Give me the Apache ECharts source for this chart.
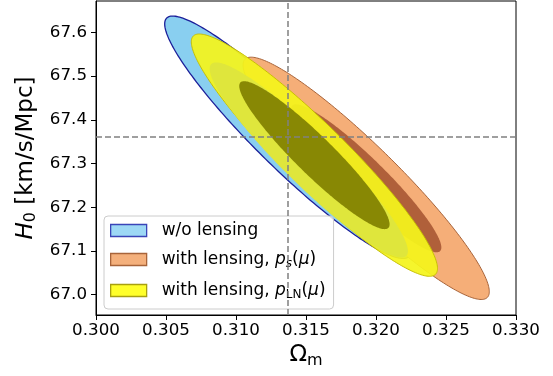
<!DOCTYPE html>
<html>
<head>
<meta charset="utf-8">
<script src="https://cdn.jsdelivr.net/npm/echarts@6/dist/echarts.min.js"></script>
<style>
  html, body { margin: 0; padding: 0; background: #ffffff; }
  #chart { width: 553px; height: 376px; }
</style>
</head>
<body>
<div id="chart"></div>
<script>
// Fiducial cosmology (dashed guide lines)
const fiducialOm = 0.3137;
const fiducialH0 = 67.36;

// Axis ticks
const omTicks = [0.300, 0.305, 0.310, 0.315, 0.320, 0.325, 0.330];
const h0Ticks = [67.0, 67.1, 67.2, 67.3, 67.4, 67.5, 67.6];

// Cases shown in the legend
const caseNames = ['w/o lensing', 'with lensing, p_s(μ)', 'with lensing, p_LN(μ)'];

// Confidence contours: case index, best-fit centre, 1-sigma errors,
// correlation coefficient and Δχ² level of each contour
const contourCase  = [0, 1, 1, 2, 2, 2];
const contourOm    = [0.3137, 0.3193, 0.3193, 0.3156, 0.3152, 0.3156];
const contourH0    = [67.360, 67.266, 67.266, 67.319, 67.308, 67.319];
const contourSigOm = [0.00354, 0.00354, 0.00354, 0.00354, 0.00354, 0.00354];
const contourSigH0 = [0.1116, 0.1116, 0.1116, 0.1116, 0.1116, 0.1116];
const contourRho   = [-0.935, -0.935, -0.935, -0.935, -0.935, -0.935];
const contourDchi2 = [6.17, 6.17, 2.30, 6.17, 4.00, 2.30];

// Look of each contour
const contourStyle = [
  { fill: '#89cff0', stroke: '#1c1f9a', lw: 1.3 },
  { fill: '#f5ae78', stroke: '#a8643a', lw: 1.0 },
  { fill: '#b0603a', stroke: null, lw: 0 },
  { fill: '#f4f41c', stroke: '#c4bc00', lw: 1.0, opacity: 0.93 },
  { fill: '#dfe63c', stroke: null, lw: 0 },
  { fill: '#808000', stroke: null, lw: 0, opacity: 0.92 }
];

const legendStyle = [
  { color: '#9dd8f5', borderColor: '#3a44b8', borderWidth: 1.3 },
  { color: '#f4b07c', borderColor: '#a8643a', borderWidth: 1.3 },
  { color: '#ffff2a', borderColor: '#a8a010', borderWidth: 1.3 }
];

const legendLabels = [
  '{t|w/o lensing}',
  '{t|with lensing, }{i|p}{si|s}{t|(}{i|μ}{t|)}',
  '{t|with lensing, }{i|p}{sr|LN}{t|(}{i|μ}{t|)}'
];

const FONT = 'DejaVu Sans';
const TICK_FS = 16.7;
const LEG_FS = 17;
const NAME_FS = 23;

function renderContour(params, api) {
  const om = api.value(0), h0 = api.value(1);
  const sx = api.value(2), sy = api.value(3), rho = api.value(4);
  const k = Math.sqrt(api.value(5));
  const id = api.value(6);
  const q = Math.sqrt(1 - rho * rho);
  const pts = [];
  const n = 240;
  for (let j = 0; j < n; j++) {
    const t = 2 * Math.PI * j / n;
    const c = Math.cos(t), s = Math.sin(t);
    pts.push(api.coord([om + k * sx * c, h0 + k * sy * (rho * c + q * s)]));
  }
  const st = contourStyle[id];
  return {
    type: 'polygon',
    shape: { points: pts },
    style: {
      fill: st.fill,
      stroke: st.stroke || null,
      lineWidth: st.lw || 0,
      opacity: st.opacity == null ? 1 : st.opacity
    }
  };
}

const series = caseNames.map((name, c) => {
  const data = [];
  for (let i = 0; i < contourCase.length; i++) {
    if (contourCase[i] !== c) continue;
    data.push([contourOm[i], contourH0[i], contourSigOm[i], contourSigH0[i],
               contourRho[i], contourDchi2[i], i]);
  }
  const s = {
    type: 'custom',
    name: name,
    renderItem: renderContour,
    data: data,
    encode: { x: 0, y: 1 },
    itemStyle: { color: legendStyle[c].color },
    silent: true,
    animation: false
  };
  if (c === caseNames.length - 1) {
    s.markLine = {
      silent: true,
      precision: 6,
      symbol: ['none', 'none'],
      label: { show: false },
      animation: false,
      lineStyle: { color: '#808080', type: [6, 3], width: 1.5 },
      data: [{ xAxis: fiducialOm }, { yAxis: fiducialH0 }]
    };
  }
  return s;
});

const subPad = [9, 0, 0, 0];
const legendRich = {
  t:  { fontFamily: FONT, fontSize: LEG_FS, color: '#000', lineHeight: 18 },
  i:  { fontFamily: FONT, fontSize: LEG_FS, color: '#000', fontStyle: 'italic', lineHeight: 18 },
  si: { fontFamily: FONT, fontSize: 12, color: '#000', fontStyle: 'italic', padding: subPad, lineHeight: 12 },
  sr: { fontFamily: FONT, fontSize: 12, color: '#000', padding: subPad, lineHeight: 12 }
};

const chart = echarts.init(document.getElementById('chart'), null, { renderer: 'canvas' });
chart.setOption({
  animation: false,
  backgroundColor: '#ffffff',
  grid: {
    left: 96, right: 37, top: 1, bottom: 61,
    show: true, borderColor: '#000000', borderWidth: 1, backgroundColor: 'transparent'
  },
  xAxis: {
    type: 'value',
    min: 0.300, max: 0.330,
    name: '{o|Ω}{s|m}',
    nameLocation: 'middle',
    nameGap: 24,
    nameTextStyle: {
      fontFamily: FONT, fontSize: NAME_FS, color: '#000',
      rich: {
        o: { fontFamily: FONT, fontSize: NAME_FS, color: '#000' },
        s: { fontFamily: FONT, fontSize: 16, color: '#000', padding: [10, 0, 0, 0] }
      }
    },
    axisLine: { show: true, onZero: false, lineStyle: { color: '#000', width: 1 } },
    axisTick: { show: true, length: 5, inside: false, customValues: omTicks,
                lineStyle: { color: '#000', width: 1 } },
    axisLabel: { customValues: omTicks, formatter: v => v.toFixed(3), margin: 7,
                 fontFamily: FONT, fontSize: TICK_FS, color: '#000' },
    splitLine: { show: false }
  },
  yAxis: {
    type: 'value',
    min: 66.9533, max: 67.6717,
    name: '{i|H}{s|0}{t| [km/s/Mpc]}',
    nameLocation: 'middle',
    nameRotate: 90,
    nameGap: 55,
    nameTextStyle: {
      fontFamily: FONT, fontSize: NAME_FS, color: '#000',
      rich: {
        i: { fontFamily: FONT, fontSize: NAME_FS, color: '#000', fontStyle: 'italic' },
        s: { fontFamily: FONT, fontSize: 16, color: '#000', padding: [10, 0, 0, 0] },
        t: { fontFamily: FONT, fontSize: NAME_FS, color: '#000' }
      }
    },
    axisLine: { show: true, onZero: false, lineStyle: { color: '#000', width: 1 } },
    axisTick: { show: true, length: 5, inside: false, customValues: h0Ticks,
                lineStyle: { color: '#000', width: 1 } },
    axisLabel: { customValues: h0Ticks, formatter: v => v.toFixed(1), margin: 9,
                 fontFamily: FONT, fontSize: TICK_FS, color: '#000' },
    splitLine: { show: false }
  },
  legend: {
    orient: 'vertical',
    left: 104, top: 216,
    padding: [6, 8, 8, 6],
    itemGap: 10,
    itemWidth: 36, itemHeight: 12,
    icon: 'rect',
    backgroundColor: 'rgba(255,255,255,0.8)',
    borderColor: '#cccccc', borderWidth: 1, borderRadius: 4,
    selectedMode: false,
    data: caseNames.map((n, i) => ({ name: n, icon: 'rect', itemStyle: legendStyle[i] })),
    formatter: n => legendLabels[caseNames.indexOf(n)],
    textStyle: { fontFamily: FONT, fontSize: LEG_FS, color: '#000', padding: [0, 0, 0, 10], rich: legendRich }
  },
  series: series
});
</script>
</body>
</html>
